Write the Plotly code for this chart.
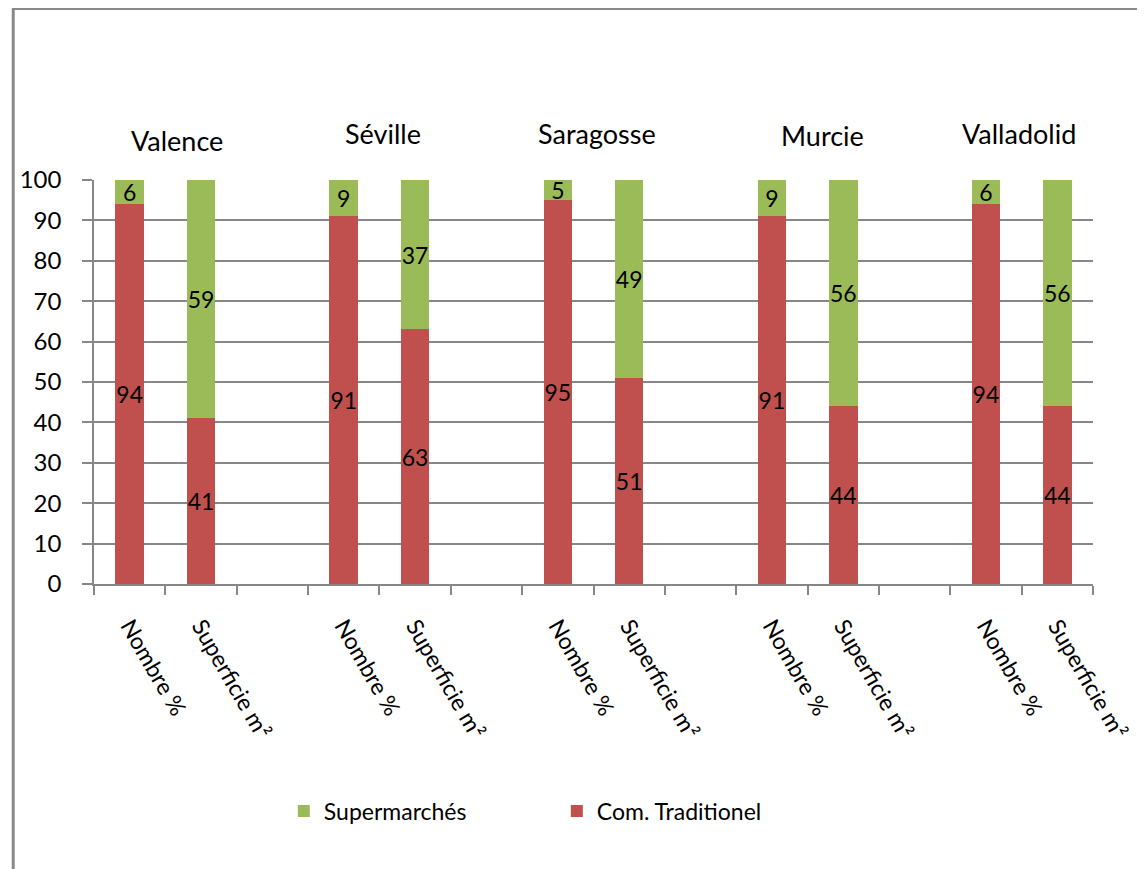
import plotly.graph_objects as go

# ---- data ----
cities = ["Valence", "Séville", "Saragosse", "Murcie", "Valladolid"]
measures = ["Nombre %", "Superficie m²"]
com_traditionnel = [94, 41, 91, 63, 95, 51, 91, 44, 94, 44]
supermarches = [6, 59, 9, 37, 5, 49, 9, 56, 6, 56]
y_ticks = [0, 10, 20, 30, 40, 50, 60, 70, 80, 90, 100]

RED = "#C0504D"
GREEN = "#9BBB59"
GRID = "#878787"
FONT = "Lato"

# category slots: two bars per city, an empty slot between cities
slots, slot_text, bar_ids = [], [], []
for i, c in enumerate(cities):
    for m in measures:
        sid = f"{c} | {m}"
        slots.append(sid)
        slot_text.append(m)
        bar_ids.append(sid)
    if i < len(cities) - 1:
        slots.append(f"gap {i}")
        slot_text.append("")

fig = go.Figure()
fig.add_trace(go.Bar(
    name="Com. Traditionel", x=bar_ids, y=com_traditionnel,
    marker=dict(color=RED, line=dict(width=0)),
    text=com_traditionnel, textposition="inside", insidetextanchor="middle",
    textangle=0, textfont=dict(color="black", size=23, family=FONT),
))
fig.add_trace(go.Bar(
    name="Supermarchés", x=bar_ids, y=supermarches,
    marker=dict(color=GREEN, line=dict(width=0)),
    text=supermarches, textposition="inside", insidetextanchor="middle",
    textangle=0, textfont=dict(color="black", size=23, family=FONT),
))

# page offset of the figure (body margin)
OFF = 8
W, H = 1145 - OFF, 869 - OFF
# plot area in page pixels
PL, PR, PT, PB = 90, 1098, 180, 584
L, R, T, B = PL - OFF, PR - OFF, PT - OFF, PB - OFF

city_pos = [(174, 141), (382, 134), (598, 134), (825, 136), (1023, 134)]
annotations = []
for c, (px, py) in zip(cities, city_pos):
    annotations.append(dict(
        text=c, xref="paper", yref="paper",
        x=(px - PL) / (PR - PL), y=(PB - py) / (PB - PT),
        xanchor="center", yanchor="middle", showarrow=False,
        font=dict(size=27, color="black", family=FONT),
    ))

def px_x(fx):  # figure px -> paper x
    return (fx - L) / (R - L)

def px_y(fy):  # figure px -> paper y
    return (B - fy) / (B - T)

fig.update_layout(
    width=W, height=H,
    margin=dict(l=L, r=W - R, t=T, b=H - B),
    paper_bgcolor="white", plot_bgcolor="white",
    barmode="stack", bargap=0.6,
    font=dict(family=FONT, size=23, color="black"),
    uniformtext=dict(mode="show", minsize=23),
    showlegend=True,
    legend=dict(
        orientation="h", traceorder="reversed",
        x=0.19, xanchor="left", y=-0.562, yanchor="middle",
        font=dict(size=23, family=FONT, color="black"),
        entrywidth=228, entrywidthmode="pixels",
        bgcolor="rgba(0,0,0,0)",
    ),
    annotations=annotations,
    shapes=[
        dict(type="line", xref="paper", yref="paper",
             x0=px_x(0), x1=px_x(W + 10), y0=px_y(0.5), y1=px_y(0.5),
             line=dict(color="#898989", width=3)),
        dict(type="line", xref="paper", yref="paper",
             x0=px_x(0.5), x1=px_x(0.5), y0=px_y(0), y1=px_y(H + 10),
             line=dict(color="#898989", width=3)),
    ],
)

fig.update_xaxes(
    type="category", categoryorder="array", categoryarray=slots,
    tickmode="array", tickvals=slots, ticktext=slot_text,
    tickson="boundaries", ticks="outside", ticklen=9, tickwidth=1.5,
    tickcolor=GRID, tickangle=60, ticklabelstandoff=18,
    showline=True, linecolor=GRID, linewidth=1.5,
    showgrid=False, range=[-0.5, len(slots) - 0.5],
    tickfont=dict(size=23, family=FONT, color="black"),
)
fig.update_yaxes(
    range=[0, 100], tickmode="array", tickvals=y_ticks,
    ticks="outside", ticklen=10, tickwidth=1.5, tickcolor=GRID,
    showline=True, linecolor=GRID, linewidth=1.5,
    showgrid=True, gridcolor=GRID, gridwidth=1.5,
    zeroline=False, ticklabelstandoff=16,
    tickfont=dict(size=24, family=FONT, color="black"),
)

fig.write_html("out.html")
